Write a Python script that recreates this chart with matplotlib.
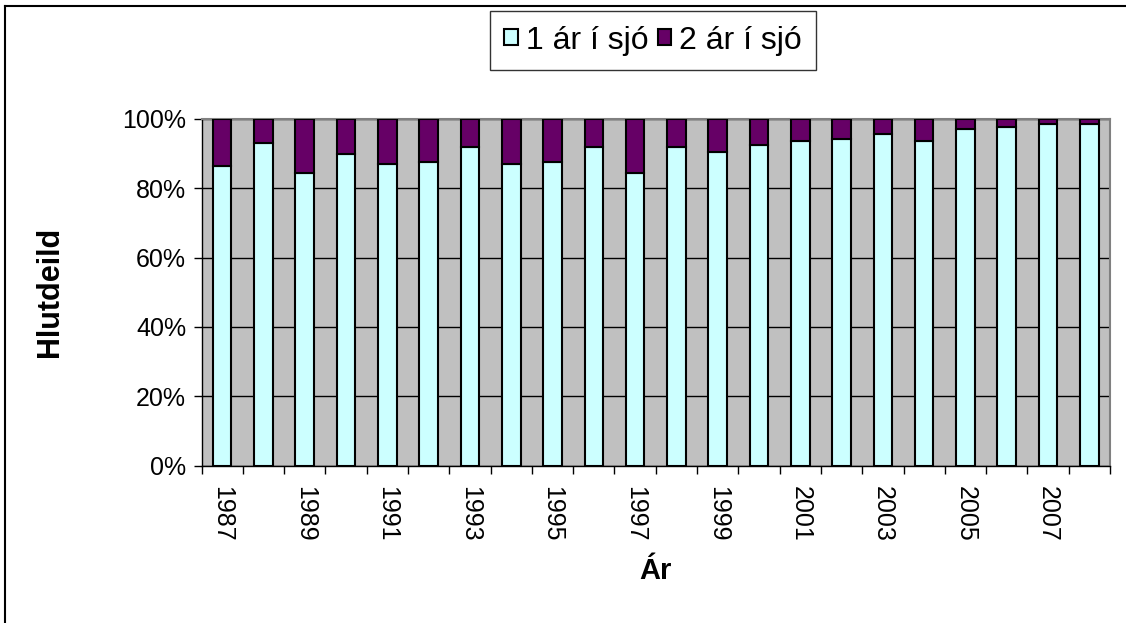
import numpy as np
import matplotlib.pyplot as plt
from matplotlib.lines import Line2D

plt.rcParams['font.family'] = ['Liberation Sans', 'DejaVu Sans']

years = list(range(1987, 2009))
# share of salmon after 1 and 2 years at sea (%)
one_sea_winter = [86.4, 93.2, 84.5, 89.8, 87.1, 87.6, 91.8, 87.1, 87.7, 91.8, 84.3,
                  91.8, 90.4, 92.4, 93.7, 94.2, 95.8, 93.7, 97.1, 97.8, 98.6, 98.6]
two_sea_winter = [13.6, 6.8, 15.5, 10.2, 12.9, 12.4, 8.2, 12.9, 12.3, 8.2, 15.7,
                  8.2, 9.6, 7.6, 6.3, 5.8, 4.2, 6.3, 2.9, 2.2, 1.4, 1.4]
labels = ["1 ár í sjó", "2 ár í sjó"]
colors = ["#CCFFFF", "#660066"]

fig = plt.figure(figsize=(11.26, 6.23), dpi=100)
ax = fig.add_axes([201.5 / 1126, 1 - 465.5 / 623, 908.5 / 1126, 346.5 / 623])
ax.set_facecolor("#C0C0C0")

x = np.arange(len(years))
ax.bar(x, one_sea_winter, width=0.45, color=colors[0], edgecolor="black",
       linewidth=1.5, label=labels[0], zorder=3)
ax.bar(x, two_sea_winter, width=0.45, bottom=one_sea_winter, color=colors[1],
       edgecolor="black", linewidth=1.5, label=labels[1], zorder=3)

ax.set_xlim(-0.5, len(years) - 0.5)
ax.set_ylim(0, 100)

# y axis
ax.set_yticks(np.arange(0, 101, 20))
ax.set_yticklabels([f"{v}%" for v in range(0, 101, 20)])
ax.yaxis.grid(True, color="black", linewidth=1, zorder=1)
ax.set_axisbelow(True)

# x axis: ticks between categories, labels every other year
ax.set_xticks(np.arange(-0.5, len(years), 1))
ax.set_xticklabels([])
ax.set_xticks(x[::2], minor=True)
ax.set_xticklabels([str(y) for y in years[::2]], minor=True, rotation=270)
ax.tick_params(axis="x", which="minor", length=0, pad=15, labelsize=18)
ax.tick_params(axis="x", which="major", length=6, width=1, direction="out")
ax.tick_params(axis="y", length=6, width=1, direction="out", labelsize=18, pad=5)

for side in ["top", "right"]:
    ax.spines[side].set_color("#808080")
    ax.spines[side].set_linewidth(1.5)
for side in ["left", "bottom"]:
    ax.spines[side].set_color("black")
    ax.spines[side].set_linewidth(1)

ax.set_xlabel("Ár", fontsize=21, fontweight="bold")
ax.xaxis.set_label_coords(0.5, -0.265)
ax.set_ylabel("Hlutdeild", fontsize=22, fontweight="bold")
ax.yaxis.set_label_coords(-0.15, 0.5)

leg = fig.legend(loc="center", bbox_to_anchor=(653 / 1126, 1 - 40.5 / 623), ncol=2,
                 fontsize=23, frameon=True, fancybox=False, edgecolor="black",
                 handlelength=0.42, handleheight=0.42, handletextpad=0.25,
                 columnspacing=0.3, borderpad=0.45, borderaxespad=0)
leg.get_frame().set_linewidth(1)

# outer chart frame (left and top edges visible)
fig.add_artist(Line2D([4.5 / 1126, 4.5 / 1126], [0, 1 - 5.5 / 623],
                      transform=fig.transFigure, color="black", linewidth=1.5))
fig.add_artist(Line2D([4.5 / 1126, 1], [1 - 5.5 / 623, 1 - 5.5 / 623],
                      transform=fig.transFigure, color="black", linewidth=1.5))

plt.savefig("out.png", dpi=100)
